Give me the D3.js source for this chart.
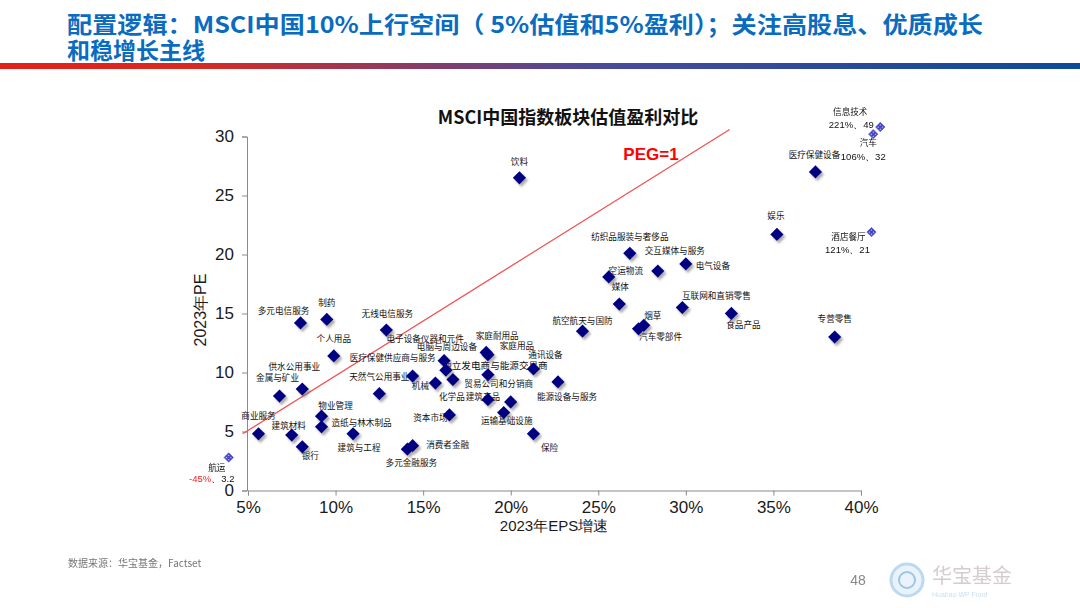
<!DOCTYPE html>
<html><head><meta charset="utf-8">
<script src="https://cdn.jsdelivr.net/npm/d3@7"></script>
<style>body{margin:0;background:#fff} svg{display:block}</style>
</head><body><svg id="c" width="1080" height="608"></svg>
<script>
// ---------- data ----------
const sectors = ["饮料","纺织品服装与奢侈品","交互媒体与服务","电气设备","空运物流","媒体","互联网和直销零售","食品产品","烟草","汽车零部件","航空航天与国防","医疗保健设备","娱乐","专营零售","保险","消费者金融","多元金融服务","建筑与工程","造纸与林木制品","物业管理","商业服务","建筑材料","银行","金属与矿业","供水公用事业","多元电信服务","制药","个人用品","无线电信服务","天然气公用事业","医疗保健供应商与服务","电子设备仪器和元件","电脑与周边设备","机械","化学品","资本市场","独立发电商与能源交易商","贸易公司和分销商","建筑产品","运输基础设施","通讯设备","能源设备与服务","家庭耐用品","家庭用品"];
const epsGrowth = [20.5,26.8,28.4,30.0,25.6,26.2,29.8,32.6,27.6,27.3,24.1,37.4,35.2,38.5,21.3,14.4,14.1,11.0,9.2,9.2,5.6,7.5,8.1,6.8,8.1,8.0,9.5,9.9,12.9,12.5,14.4,16.2,16.3,15.7,16.7,16.5,18.7,20.0,18.7,19.6,21.3,22.7,18.6,18.7];
const pe = [26.5,20.1,18.6,19.2,18.1,15.8,15.5,15.0,14.0,13.7,13.5,27.0,21.7,13.0,4.8,3.8,3.5,4.8,5.4,6.3,4.8,4.7,3.7,8.0,8.6,14.2,14.5,11.4,13.6,8.2,9.7,11.0,10.2,9.1,9.4,6.4,9.8,7.5,7.7,6.6,10.3,9.2,11.7,11.5];

// off-scale sectors: actual values and capped plotted position
const outNames = ["信息技术","汽车","酒店餐厅","航运"];
const outGrowth = ["221%","106%","121%","-45%"];
const outPE = ["49","32","21","3.2"];
const outPlotX = [41.1,40.7,40.6,3.9];
const outPlotY = [30.8,30.2,21.9,2.8];

const xTicks = [5,10,15,20,25,30,35,40];
const yTicks = [0,5,10,15,20,25,30];
const pegLine = [[4.7,4.8],[32.5,30.6]];

const titleLines = ["配置逻辑：MSCI中国10%上行空间（ 5%估值和5%盈利）；关注高股息、优质成长","和稳增长主线"];
const chartTitle = "MSCI中国指数板块估值盈利对比";

// ---------- layout (label offsets in px) ----------
const labelOff = {
 "饮料":[0,-15],"纺织品服装与奢侈品":[0,-16],"交互媒体与服务":[17,-19],"电气设备":[27,3],"空运物流":[17,-5],
 "媒体":[1,-16],"互联网和直销零售":[34,-11],"食品产品":[12,12],"烟草":[9,-9],"汽车零部件":[22,9],
 "航空航天与国防":[0,-10],"医疗保健设备":[-1,-16],"娱乐":[-1,-18],"专营零售":[0,-17],"保险":[16,15],
 "消费者金融":[35,0],"多元金融服务":[4,14],"建筑与工程":[6,15],"造纸与林木制品":[40,-3],"物业管理":[14,-9],
 "商业服务":[0,-17],"建筑材料":[-3,-8],"银行":[8,10],"金属与矿业":[-2,-17],"供水公用事业":[-8,-21],
 "多元电信服务":[-17,-11],"制药":[0,-16],"个人用品":[0,-16],"无线电信服务":[1,-15],"天然气公用事业":[0,-16],
 "医疗保健供应商与服务":[-20,-17],"电子设备仪器和元件":[-19,-21],"电脑与周边设备":[1,-22],"机械":[-15,4],
 "化学品":[-1,18],"资本市场":[-19,4],"独立发电商与能源交易商":[7,-8],"贸易公司和分销商":[-12,-17],
 "建筑产品":[-5,-2],"运输基础设施":[3,9],"通讯设备":[12,-13],"能源设备与服务":[9,16],"家庭耐用品":[11,-16],"家庭用品":[29,-8]
};
const outOff = [[[-30,-14],[-29,-2]],[[-5,10],[-10,23]],[[-23,6],[-24,18]],[[-12,11],[-17,22]]];

const svg = d3.select("#c");
const defs = svg.append("defs");
const grad = defs.append("linearGradient").attr("id","bar").attr("x1","0").attr("x2","1");
grad.append("stop").attr("offset","0").attr("stop-color","#e3201b");
grad.append("stop").attr("offset","0.18").attr("stop-color","#d82a22");
grad.append("stop").attr("offset","0.55").attr("stop-color","#4a4a9a");
grad.append("stop").attr("offset","1").attr("stop-color","#0d4a9a");
const f = defs.append("filter").attr("id","sh").attr("x","-50%").attr("y","-50%").attr("width","200%").attr("height","200%");
f.append("feDropShadow").attr("dx",2).attr("dy",2.5).attr("stdDeviation",1.2).attr("flood-color","#777").attr("flood-opacity",0.6);
const pat = defs.append("pattern").attr("id","hatch").attr("width",3).attr("height",3).attr("patternUnits","userSpaceOnUse");
pat.append("rect").attr("width",3).attr("height",3).attr("fill","#4040c0");
pat.append("rect").attr("x",1).attr("y",1).attr("width",1.2).attr("height",1.2).attr("fill","#dfe0ff");

// header
svg.selectAll("text.hdr").data(titleLines).join("text").attr("class","hdr")
  .attr("x",67).attr("y",(d,i)=>33+i*26)
  .attr("font-family","'Noto Sans CJK SC', sans-serif").attr("font-weight","bold").attr("font-size",23)
  .attr("fill","#0a6cc0")
  .each(function(d,i){ if(i===0) d3.select(this).attr("textLength",916).attr("lengthAdjust","spacingAndGlyphs"); })
  .text(d=>d);
svg.append("rect").attr("x",0).attr("y",63).attr("width",1080).attr("height",6).attr("fill","url(#bar)");

// scales
const x = d3.scaleLinear().domain([5,40]).range([248,861]);
const y = d3.scaleLinear().domain([0,30]).range([490.5,136.5]);

const font = "'Liberation Sans', Arial, sans-serif";
const cjk = "'Noto Sans CJK SC', sans-serif";

// axes
const gy = svg.append("g").attr("transform",`translate(${x(5)-1},0)`)
  .call(d3.axisLeft(y).tickValues(yTicks).tickFormat(d3.format("d")).tickSize(5).tickPadding(8));
const gx = svg.append("g").attr("transform",`translate(0,${y(0)})`)
  .call(d3.axisBottom(x).tickValues(xTicks).tickFormat(d=>d+"%").tickSize(5).tickPadding(5));
[gx,gy].forEach(g=>{
  g.select(".domain").attr("stroke","#8a8a8a");
  g.selectAll(".tick line").attr("stroke","#8a8a8a");
  g.selectAll(".tick text").attr("font-family",font).attr("font-size",17).attr("fill","#1a1a1a");
});

svg.append("text").attr("transform",`translate(202,310) rotate(-90)`).attr("text-anchor","middle")
  .attr("dominant-baseline","middle").attr("font-family",font).attr("font-size",16).attr("fill","#1a1a1a").text("2023年PE");
svg.append("text").attr("x",554).attr("y",531).attr("text-anchor","middle")
  .attr("font-family",font).attr("font-size",15).attr("fill","#1a1a1a").text("2023年EPS增速");

svg.append("text").attr("x",568).attr("y",124).attr("text-anchor","middle")
  .attr("font-family",cjk).attr("font-weight","bold").attr("font-size",18).attr("fill","#111").text(chartTitle);

// PEG line
svg.append("line").attr("x1",x(pegLine[0][0])).attr("y1",y(pegLine[0][1]))
  .attr("x2",x(pegLine[1][0])).attr("y2",y(pegLine[1][1])).attr("stroke","#f05050").attr("stroke-width",1.2);
svg.append("text").attr("x",651).attr("y",160).attr("text-anchor","middle")
  .attr("font-family",font).attr("font-weight","bold").attr("font-size",17).attr("fill","#ff0000").text("PEG=1");

const pts = sectors.map((s,i)=>({name:s,gx:epsGrowth[i],pe:pe[i]}));

// labels
svg.append("g").selectAll("text").data(pts).join("text")
  .attr("x",d=>x(d.gx)+labelOff[d.name][0]).attr("y",d=>y(d.pe)+labelOff[d.name][1])
  .attr("text-anchor","middle").attr("dominant-baseline","middle")
  .attr("font-family",cjk).attr("font-size",d=>d.name==="独立发电商与能源交易商"?9.6:8.6).attr("fill","#111")
  .text(d=>d.name);

// diamonds
const sym = d3.symbol().type(d3.symbolSquare).size(88);
svg.append("g").attr("filter","url(#sh)").selectAll("path").data(pts).join("path")
  .attr("d",sym).attr("fill","#000080")
  .attr("transform",d=>`translate(${x(d.gx)},${y(d.pe)}) rotate(45)`);

// outliers
const outs = outNames.map((n,i)=>({name:n,g:outGrowth[i],p:outPE[i],px:outPlotX[i],py:outPlotY[i],i}));
const symO = d3.symbol().type(d3.symbolSquare).size(44);
svg.append("g").selectAll("path").data(outs).join("path")
  .attr("d",symO).attr("fill","url(#hatch)").attr("stroke","#5050c8").attr("stroke-width",0.6)
  .attr("transform",d=>`translate(${x(d.px)},${y(d.py)}) rotate(45)`);
const og = svg.append("g");
outs.forEach(d=>{
  const cx = x(d.px), cy = y(d.py), o = outOff[d.i];
  og.append("text").attr("x",cx+o[0][0]).attr("y",cy+o[0][1]).attr("text-anchor","middle").attr("dominant-baseline","middle")
    .attr("font-family",cjk).attr("font-size",8.6).attr("fill","#111").text(d.name);
  const t = og.append("text").attr("x",cx+o[1][0]).attr("y",cy+o[1][1]).attr("text-anchor","middle").attr("dominant-baseline","middle")
    .attr("font-family",font).attr("font-size",9.5).attr("fill","#111");
  if (d.g.startsWith("-")) {
    t.append("tspan").attr("fill","#ff2020").text(d.g);
    t.append("tspan").text("、"+d.p);
  } else t.text(d.g+"、"+d.p);
});

// footer
svg.append("text").attr("x",68).attr("y",567).attr("font-family",cjk).attr("font-size",10).attr("fill","#777")
  .text("数据来源：华宝基金，Factset");
svg.append("text").attr("x",858).attr("y",585).attr("text-anchor","middle").attr("font-family",font).attr("font-size",14).attr("fill","#888").text("48");
svg.append("circle").attr("cx",907).attr("cy",580).attr("r",16).attr("fill","#eaf3fb").attr("stroke","#bcd9f0").attr("stroke-width",3);
svg.append("circle").attr("cx",907).attr("cy",580).attr("r",8).attr("fill","none").attr("stroke","#9cc6e8").attr("stroke-width",2);
svg.append("text").attr("x",932).attr("y",583).attr("font-family",cjk).attr("font-size",20).attr("fill","#d5ccd2").text("华宝基金");
svg.append("text").attr("x",932).attr("y",597).attr("font-family",font).attr("font-size",7).attr("fill","#c8dff0").text("Huabao WP Fund");
</script></body></html>
